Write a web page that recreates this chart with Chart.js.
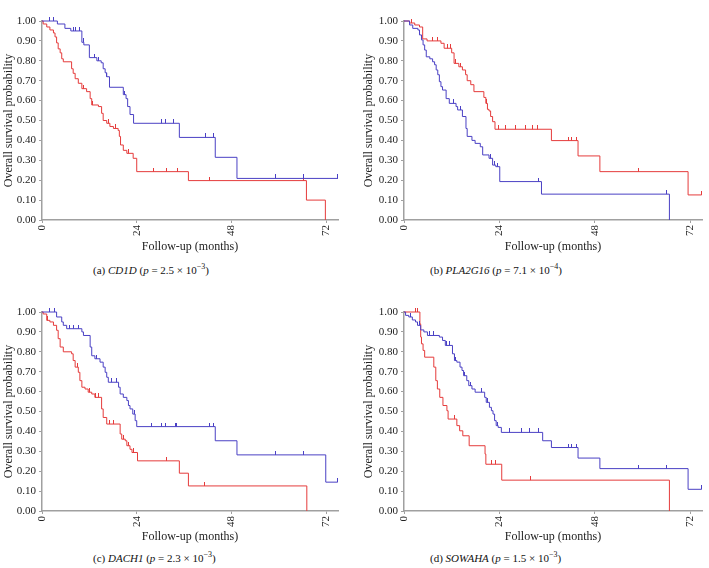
<!DOCTYPE html>
<html>
<head>
<meta charset="utf-8">
<script src="https://cdn.jsdelivr.net/npm/chart.js@4/dist/chart.umd.min.js"></script>
<style>
    body { margin: 0; background: #fff; width: 709px; height: 568px; position: relative; overflow: hidden; font-family: 'Liberation Serif', serif; }
    canvas { position: absolute; }
    .cap { position: absolute; font-size: 11px; color: #111; white-space: nowrap; line-height: 12px; }
    .cap sup { font-size: 8px; line-height: 0; }
</style>
</head>
<body>
<canvas id="cA" width="345" height="247" style="left:0;top:10px"></canvas>
<canvas id="cB" width="349" height="247" style="left:360px;top:10px"></canvas>
<canvas id="cC" width="345" height="246" style="left:0;top:301px"></canvas>
<canvas id="cD" width="349" height="246" style="left:360px;top:301px"></canvas>

<div class="cap" style="left:93px;top:264px">(a) <i>CD1D</i> (<i>p</i> = 2.5 × 10<sup>−3</sup>)</div>
<div class="cap" style="left:430px;top:264px">(b) <i>PLA2G16</i> (<i>p</i> = 7.1 × 10<sup>−4</sup>)</div>
<div class="cap" style="left:93px;top:552px">(c) <i>DACH1</i> (<i>p</i> = 2.3 × 10<sup>−3</sup>)</div>
<div class="cap" style="left:430px;top:552px">(d) <i>SOWAHA</i> (<i>p</i> = 1.5 × 10<sup>−3</sup>)</div>

<script>
const xTicks = [0, 24, 48, 72];
const yTicks = [0, 0.1, 0.2, 0.3, 0.4, 0.5, 0.6, 0.7, 0.8, 0.9, 1.0];
const xMax = 75;
const xTitle = 'Follow-up (months)';
const yTitle = 'Overall survival probability';

// CD1D - event times (months) and survival after each event, censor times
const cd1dG1Time = [3.9, 5.8, 7.3, 10.1, 10.6, 12.0, 13.9, 15.0, 15.5, 16.0, 16.4, 17.1, 20.6, 21.3, 21.7, 22.3, 23.2, 34.8, 43.9, 49.4, 75.0];
const cd1dG1Surv = [0.985, 0.963, 0.95, 0.893, 0.88, 0.816, 0.80, 0.79, 0.76, 0.74, 0.72, 0.667, 0.63, 0.61, 0.57, 0.53, 0.486, 0.415, 0.315, 0.209, 0.209];
const cd1dG1Cens = [2.0, 2.9, 7.9, 8.6, 9.6, 10.5, 13.4, 14.2, 16.4, 21.0, 30.3, 31.4, 33.3, 41.4, 43.5, 59.1, 66.3, 74.9];
const cd1dG2Time = [0.3, 1.2, 2.0, 2.9, 3.3, 3.7, 4.1, 4.6, 5.0, 5.4, 7.5, 7.9, 8.4, 9.2, 10.1, 11.3, 12.2, 12.6, 14.3, 15.1, 15.5, 16.4, 17.2, 18.1, 19.3, 19.6, 19.9, 20.6, 21.5, 23.1, 24.0, 37.1, 67.0, 71.8];
const cd1dG2Surv = [0.985, 0.97, 0.955, 0.94, 0.92, 0.89, 0.86, 0.84, 0.81, 0.795, 0.76, 0.737, 0.71, 0.687, 0.66, 0.645, 0.61, 0.578, 0.57, 0.536, 0.50, 0.486, 0.47, 0.46, 0.45, 0.42, 0.377, 0.35, 0.335, 0.31, 0.243, 0.198, 0.10, 0];
const cd1dG2Cens = [10.5, 12.8, 16.8, 18.5, 22.0, 28.2, 31.6, 34.4, 42.5, 66.3];

// PLA2G16
const plaG1Time = [1.4, 2.2, 3.5, 3.9, 4.4, 4.8, 5.2, 5.6, 6.5, 7.2, 7.7, 8.1, 8.5, 8.9, 9.3, 9.7, 10.6, 11.4, 13.1, 13.5, 14.7, 15.6, 15.9, 17.1, 17.9, 19.2, 19.8, 21.4, 22.3, 23.1, 24.1, 34.6, 66.8];
const plaG1Surv = [0.98, 0.963, 0.955, 0.93, 0.905, 0.88, 0.854, 0.82, 0.81, 0.795, 0.78, 0.754, 0.73, 0.695, 0.67, 0.653, 0.61, 0.586, 0.57, 0.553, 0.52, 0.46, 0.42, 0.40, 0.385, 0.368, 0.327, 0.31, 0.276, 0.268, 0.193, 0.13, 0];
const plaG1Cens = [12.5, 14.2, 21.8, 22.8, 23.6, 33.8, 66.1];
const plaG2Time = [1.4, 2.7, 3.9, 4.7, 5.8, 9.3, 10.1, 12.0, 12.6, 13.8, 14.7, 15.5, 15.9, 16.8, 17.6, 20.1, 20.6, 21.0, 21.4, 21.8, 22.3, 22.9, 37.1, 43.8, 49.3, 71.5, 74.9];
const plaG2Surv = [0.99, 0.98, 0.97, 0.91, 0.90, 0.888, 0.863, 0.84, 0.787, 0.77, 0.754, 0.73, 0.70, 0.68, 0.645, 0.616, 0.586, 0.556, 0.548, 0.52, 0.494, 0.456, 0.399, 0.322, 0.243, 0.126, 0.126];
const plaG2Cens = [2.0, 7.2, 8.5, 10.9, 11.7, 13.0, 14.2, 20.8, 23.9, 25.6, 28.1, 30.6, 32.3, 33.6, 41.3, 42.2, 43.4, 58.9, 74.9];

// DACH1
const dachG1Time = [3.7, 5.0, 5.4, 6.25, 10.1, 10.5, 12.2, 12.6, 13.4, 14.7, 15.5, 16.0, 16.4, 16.8, 19.4, 19.8, 20.6, 21.5, 21.9, 22.3, 23.0, 23.6, 24.0, 43.9, 49.4, 71.9, 74.9];
const dachG1Surv = [0.975, 0.95, 0.933, 0.916, 0.90, 0.882, 0.824, 0.78, 0.765, 0.748, 0.723, 0.697, 0.672, 0.647, 0.622, 0.588, 0.571, 0.555, 0.53, 0.513, 0.487, 0.454, 0.424, 0.353, 0.282, 0.145, 0.145];
const dachG1Cens = [2.0, 3.1, 7.0, 7.9, 9.2, 13.8, 17.6, 19.0, 23.5, 27.8, 30.4, 31.2, 33.7, 34.2, 42.4, 43.4, 59.1, 66.3, 74.9];
const dachG2Time = [0.3, 1.2, 2.0, 2.9, 3.7, 4.1, 4.6, 5.4, 7.5, 7.9, 8.4, 9.2, 9.6, 10.1, 10.9, 11.7, 12.6, 13.4, 15.1, 15.5, 16.4, 19.8, 20.2, 21.1, 21.5, 22.3, 22.8, 24.2, 34.8, 37.1, 67.1];
const dachG2Surv = [0.99, 0.958, 0.95, 0.933, 0.908, 0.866, 0.824, 0.80, 0.79, 0.756, 0.723, 0.697, 0.655, 0.622, 0.613, 0.597, 0.588, 0.571, 0.513, 0.47, 0.437, 0.387, 0.361, 0.353, 0.328, 0.31, 0.294, 0.252, 0.19, 0.126, 0];
const dachG2Cens = [1.5, 9.0, 12.0, 13.6, 14.3, 17.0, 18.0, 20.7, 22.0, 23.3, 31.6, 41.3];

// SOWAHA
const sowG1Time = [0.4, 1.2, 2.1, 2.9, 3.4, 4.2, 5.0, 5.9, 8.9, 9.7, 10.4, 12.2, 12.7, 13.3, 14.1, 14.6, 15.0, 15.8, 16.3, 17.1, 17.9, 20.3, 20.7, 21.5, 22.0, 22.4, 22.8, 23.2, 23.7, 24.5, 34.9, 37.1, 43.8, 49.3, 71.5, 74.9];
const sowG1Surv = [0.983, 0.975, 0.96, 0.95, 0.933, 0.91, 0.90, 0.882, 0.874, 0.857, 0.832, 0.79, 0.756, 0.748, 0.723, 0.706, 0.68, 0.655, 0.63, 0.613, 0.597, 0.571, 0.546, 0.521, 0.504, 0.487, 0.454, 0.429, 0.42, 0.395, 0.353, 0.319, 0.266, 0.213, 0.109, 0.109];
const sowG1Cens = [1.6, 3.8, 6.5, 7.3, 10.7, 11.4, 13.0, 15.3, 16.7, 19.5, 21.0, 23.5, 26.6, 29.6, 31.7, 33.8, 41.3, 42.2, 43.4, 58.9, 66.1, 74.9];
const sowG2Time = [4.0, 4.2, 4.4, 4.8, 5.2, 7.5, 8.0, 8.4, 9.0, 9.8, 10.8, 11.1, 13.3, 14.0, 14.8, 16.4, 20.4, 20.6, 24.6, 66.8];
const sowG2Surv = [0.94, 0.874, 0.84, 0.807, 0.773, 0.723, 0.655, 0.613, 0.571, 0.53, 0.504, 0.462, 0.429, 0.403, 0.378, 0.328, 0.286, 0.235, 0.155, 0];
const sowG2Cens = [3.0, 3.4, 12.8, 21.9, 23.1, 31.9];

const blue = '#4a40c4';
const red = '#e53b3b';
const axisColor = '#a0a0a0';
const textColor = '#222';

// censor mark: short upward tick, image is centred on the point so only the top half is painted
function censorMark(color) {
    const c = document.createElement('canvas');
    c.width = 1;
    c.height = 8;
    const g = c.getContext('2d');
    g.fillStyle = color;
    g.fillRect(0, 0, 1, 4);
    return c;
}

function survAt(times, surv, t) {
    let s = 1;
    for (let i = 0; i < times.length; i++) {
        if (times[i] <= t) s = surv[i];
    }
    return s;
}

function curveSets(times, surv, cens, color) {
    const line = [{ x: 0, y: 1 }].concat(times.map((t, i) => ({ x: t, y: surv[i] })));
    const marks = cens.map(t => ({ x: t, y: survAt(times, surv, t) }));
    return [
        {
            data: line,
            showLine: true,
            stepped: 'before',
            borderColor: color,
            borderWidth: 1,
            pointRadius: 0,
            fill: false
        },
        {
            data: marks,
            showLine: false,
            pointStyle: censorMark(color),
            pointRadius: 4,
            pointHoverRadius: 4
        }
    ];
}

function makeChart(id, yWidth, xHeight, g1, g2) {
    const ctx = document.getElementById(id).getContext('2d');
    return new Chart(ctx, {
        type: 'scatter',
        data: {
            datasets: [].concat(curveSets(...g1, blue), curveSets(...g2, red))
        },
        options: {
            responsive: false,
            animation: false,
            clip: 4,
            layout: { padding: { top: 11, right: 7, left: 0, bottom: 0 } },
            plugins: { legend: { display: false }, tooltip: { enabled: false } },
            scales: {
                x: {
                    type: 'linear',
                    min: 0,
                    max: xMax,
                    afterBuildTicks: s => { s.ticks = xTicks.map(v => ({ value: v })); },
                    afterFit: s => { s.height = xHeight; },
                    grid: { drawOnChartArea: false, tickLength: 3, color: axisColor },
                    border: { color: axisColor, width: 1.5 },
                    ticks: {
                        minRotation: 90,
                        maxRotation: 90,
                        padding: 2,
                        color: textColor,
                        font: { family: 'Liberation Serif', size: 11 }
                    },
                    title: {
                        display: true,
                        text: xTitle,
                        color: textColor,
                        font: { family: 'Liberation Serif', size: 12 },
                        padding: { top: 2, bottom: 3 }
                    }
                },
                y: {
                    min: 0,
                    max: 1,
                    afterBuildTicks: s => { s.ticks = yTicks.map(v => ({ value: v })); },
                    afterFit: s => { s.width = yWidth; },
                    grid: { drawOnChartArea: false, tickLength: 3, color: axisColor },
                    border: { color: axisColor, width: 1.5 },
                    ticks: {
                        padding: 3,
                        color: textColor,
                        font: { family: 'Liberation Serif', size: 11 },
                        callback: v => v.toFixed(2)
                    },
                    title: {
                        display: true,
                        text: yTitle,
                        color: textColor,
                        font: { family: 'Liberation Serif', size: 12 },
                        padding: { top: 2, bottom: 2 }
                    }
                }
            }
        }
    });
}

makeChart('cA', 42, 37, [cd1dG1Time, cd1dG1Surv, cd1dG1Cens], [cd1dG2Time, cd1dG2Surv, cd1dG2Cens]);
makeChart('cB', 44, 37, [plaG1Time, plaG1Surv, plaG1Cens], [plaG2Time, plaG2Surv, plaG2Cens]);
makeChart('cC', 42, 36, [dachG1Time, dachG1Surv, dachG1Cens], [dachG2Time, dachG2Surv, dachG2Cens]);
makeChart('cD', 44, 36, [sowG1Time, sowG1Surv, sowG1Cens], [sowG2Time, sowG2Surv, sowG2Cens]);
</script>
</body>
</html>
